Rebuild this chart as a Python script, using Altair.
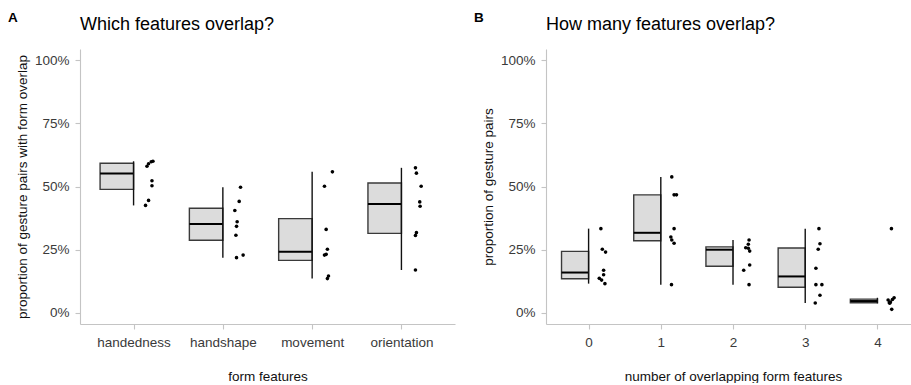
import altair as alt
import pandas as pd

FONT = "Liberation Sans"

# ---- Panel A: which form features overlap (percent of gesture pairs) ----
features = ["handedness", "handshape", "movement", "orientation"]
handedness = [60.0, 59.8, 59.0, 58.0, 52.3, 50.3, 44.5, 42.5]
handshape = [49.7, 44.1, 40.5, 36.0, 34.2, 30.7, 21.8, 22.8]
movement = [55.8, 50.1, 33.0, 25.1, 23.1, 22.8, 14.5, 13.5]
orientation = [57.4, 55.3, 50.1, 43.9, 42.2, 31.7, 30.6, 16.9]
# horizontal jitter of each dot, in category steps to the right of the box
jit_handedness = [0.217, 0.198, 0.168, 0.150, 0.206, 0.206, 0.168, 0.134]
jit_handshape = [0.198, 0.183, 0.134, 0.160, 0.153, 0.146, 0.153, 0.227]
jit_movement = [0.227, 0.138, 0.157, 0.171, 0.157, 0.138, 0.183, 0.171]
jit_orientation = [0.157, 0.168, 0.221, 0.205, 0.209, 0.168, 0.157, 0.157]

# ---- Panel B: how many form features overlap (percent of gesture pairs) ----
n_features = ["0", "1", "2", "3", "4"]
n0 = [33.3, 25.1, 24.0, 16.8, 15.0, 13.6, 12.9, 11.5]
n1 = [53.8, 46.7, 46.7, 33.3, 30.0, 28.8, 27.5, 11.1]
n2 = [28.8, 27.1, 25.7, 25.5, 24.4, 16.8, 18.9, 11.1]
n3 = [33.3, 27.3, 25.1, 17.6, 11.1, 11.1, 6.9, 3.8]
n4 = [33.3, 5.0, 5.9, 5.2, 4.2, 4.0, 3.7, 1.3]
jit_n0 = [0.170, 0.190, 0.235, 0.208, 0.208, 0.148, 0.180, 0.226]
jit_n1 = [0.152, 0.184, 0.217, 0.184, 0.139, 0.152, 0.184, 0.148]
jit_n2 = [0.222, 0.212, 0.176, 0.212, 0.231, 0.148, 0.231, 0.222]
jit_n3 = [0.190, 0.204, 0.180, 0.148, 0.148, 0.231, 0.204, 0.139]
jit_n4 = [0.194, 0.148, 0.231, 0.208, 0.180, 0.166, 0.170, 0.198]

BOX_HALF = 0.375  # half-box width, in category steps


def long_table(series, jitters):
    rows = []
    for i, (vals, jit) in enumerate(zip(series, jitters)):
        for v, j in zip(vals, jit):
            rows.append({"idx": i, "pct": v, "jit": j})
    return pd.DataFrame(rows)


def panel(df, names, letter, title, xtitle, ytitle, width, xdomain, xtitle_x):
    label_expr = "[" + ",".join("'%s'" % n for n in names) + "][datum.value]"
    xscale = alt.Scale(domain=xdomain, nice=False, zero=False)
    yscale = alt.Scale(domain=[-4.5, 104.5], nice=False, zero=False)
    common = dict(
        domainColor="#c4c4c4", tickColor="#c4c4c4", domainWidth=1.1, tickWidth=1.1,
        tickSize=5, labelColor="#3a3a3a", labelFont=FONT, labelFontSize=13.5,
        titleFont=FONT, titleFontSize=13.5, titleColor="#111111",
        titleFontWeight="normal", grid=False, labelPadding=6,
    )
    xaxis = alt.Axis(values=list(range(len(names))), labelExpr=label_expr,
                     title=xtitle, titlePadding=21, titleX=xtitle_x, **common)
    yaxis = alt.Axis(values=[0, 25, 50, 75, 100], labelExpr="datum.value + '%'",
                     title=ytitle, titlePadding=5, **common)

    base = alt.Chart(df)
    stats = (
        base.transform_joinaggregate(
            q1="q1(pct)", q3="q3(pct)", med="median(pct)", groupby=["idx"]
        )
        .transform_calculate(
            lo="datum.q1 - 1.5 * (datum.q3 - datum.q1)",
            hi="datum.q3 + 1.5 * (datum.q3 - datum.q1)",
        )
        .transform_filter("datum.pct >= datum.lo && datum.pct <= datum.hi")
        .transform_aggregate(
            wlo="min(pct)", whi="max(pct)", q1="min(q1)", q3="min(q3)",
            med="min(med)", groupby=["idx"],
        )
        .transform_calculate(left="datum.idx - %f" % BOX_HALF)
    )

    box = stats.mark_rect(fill="#dcdcdc", stroke="#3a3a3a", strokeWidth=1.4).encode(
        x=alt.X("left:Q", scale=xscale, axis=xaxis),
        x2="idx:Q",
        y=alt.Y("q1:Q", scale=yscale, axis=yaxis),
        y2="q3:Q",
    )
    median = stats.mark_rule(color="#000000", strokeWidth=2.0).encode(
        x=alt.X("left:Q", scale=xscale, axis=xaxis),
        x2="idx:Q",
        y=alt.Y("med:Q", scale=yscale, axis=yaxis),
    )
    whisker = stats.mark_rule(color="#111111", strokeWidth=1.4).encode(
        x=alt.X("idx:Q", scale=xscale, axis=xaxis),
        y=alt.Y("wlo:Q", scale=yscale, axis=yaxis),
        y2="whi:Q",
    )
    dots = (
        base.transform_calculate(xj="datum.idx + datum.jit")
        .mark_circle(color="#000000", opacity=1, size=13)
        .encode(
            x=alt.X("xj:Q", scale=xscale, axis=xaxis),
            y=alt.Y("pct:Q", scale=yscale, axis=yaxis),
        )
    )

    heading = pd.DataFrame({"letter": [letter], "title": [title]})
    tag = alt.Chart(heading).mark_text(
        font=FONT, fontSize=13.5, fontWeight="bold", align="left",
        baseline="alphabetic", color="#000000",
    ).encode(x=alt.value(-72), y=alt.value(-27.5), text="letter:N")
    head = alt.Chart(heading).mark_text(
        font=FONT, fontSize=18, align="left", baseline="alphabetic", color="#000000",
    ).encode(x=alt.value(0), y=alt.value(-19), text="title:N")

    return alt.layer(box, median, whisker, dots, tag, head).properties(
        width=width, height=275
    )


df_a = long_table(
    [handedness, handshape, movement, orientation],
    [jit_handedness, jit_handshape, jit_movement, jit_orientation],
)
df_b = long_table([n0, n1, n2, n3, n4], [jit_n0, jit_n1, jit_n2, jit_n3, jit_n4])

left = panel(df_a, features, "A", "Which features overlap?", "form features",
             "proportion of gesture pairs with form overlap", 375, [-0.6, 3.6], 187.5)
right = panel(df_b, n_features, "B", "How many features overlap?",
              "number of overlapping form features", "proportion of gesture pairs",
              365, [-0.59, 4.465], 187)

chart = (
    alt.hconcat(left, right, spacing=91, bounds="flush")
    .properties(
        padding={"left": 8, "top": 10, "right": 0, "bottom": 0},
        autosize=alt.AutoSizeParams(type="pad"),
        background="white",
    )
    .configure_view(stroke=None)
)

chart.save("out.html", embed_options={"renderer": "svg", "actions": False})
